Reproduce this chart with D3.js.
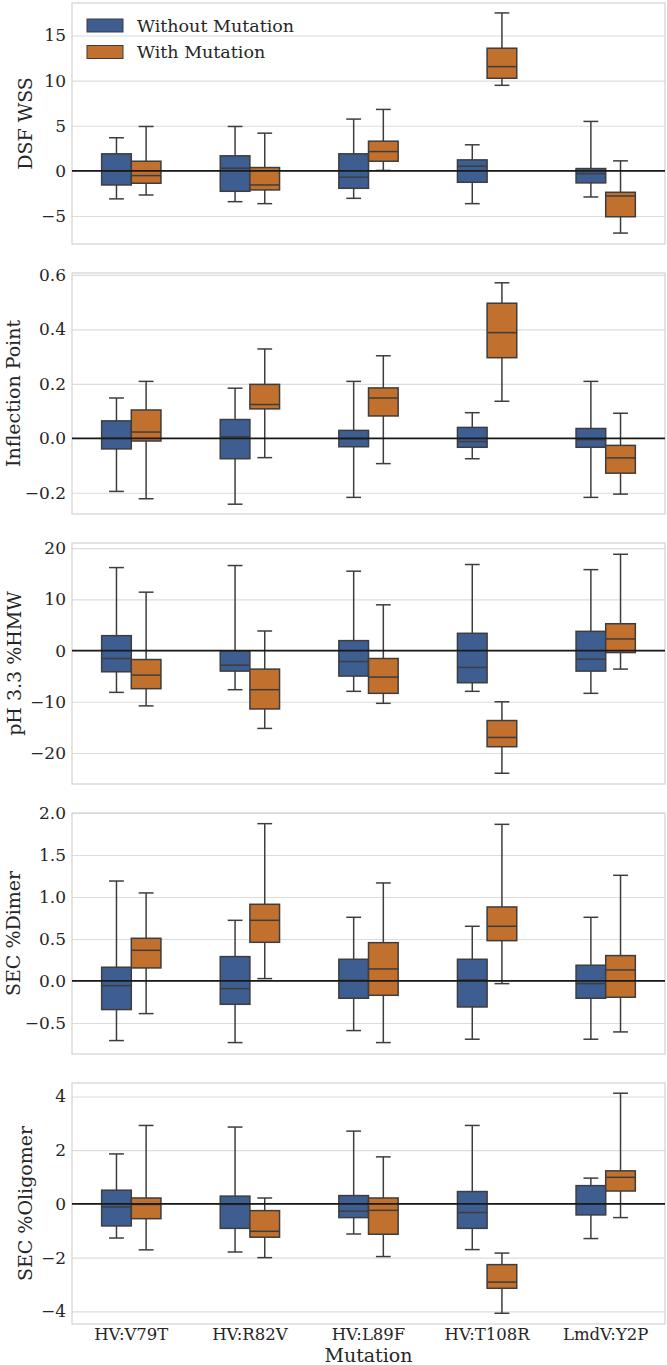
<!DOCTYPE html>
<html>
<head>
<meta charset="utf-8">
<script src="https://cdn.jsdelivr.net/npm/d3@7"></script>
<style>
  body { margin: 0; background: #fff; }
  text { font-family: "DejaVu Serif", serif; fill: #262626; }
</style>
</head>
<body>
<div id="chart"></div>
<script>
// categories and hue groups
const categories = ["HV:V79T", "HV:R82V", "HV:L89F", "HV:T108R", "LmdV:Y2P"];
const series = ["Without Mutation", "With Mutation"];
const colors = ["#3e5e92", "#c1712d"];

// box stats per category: [low whisker, q1, median, q3, high whisker]
const dsfWithout = [[-3.1, -1.56, 0.0, 1.89, 3.67], [-3.41, -2.26, 0.3, 1.67, 4.92], [-3.04, -1.93, -0.7, 1.89, 5.74], [-3.63, -1.26, 0.52, 1.22, 2.89], [-2.89, -1.33, -0.3, 0.26, 5.48]];
const dsfWith = [[-2.67, -1.37, -0.52, 1.07, 4.92], [-3.63, -2.11, -1.56, 0.37, 4.18], [0.05, 1.07, 2.14, 3.29, 6.81], [9.48, 10.26, 11.55, 13.59, 17.5], [-6.89, -5.08, -2.78, -2.37, 1.11]];

const inflWithout = [[-0.195, -0.039, 0.0, 0.064, 0.148], [-0.242, -0.075, 0.006, 0.069, 0.184], [-0.217, -0.031, -0.002, 0.029, 0.209], [-0.075, -0.033, -0.012, 0.04, 0.094], [-0.217, -0.033, -0.005, 0.036, 0.209]];
const inflWith = [[-0.222, -0.01, 0.023, 0.104, 0.209], [-0.071, 0.108, 0.124, 0.198, 0.328], [-0.093, 0.082, 0.148, 0.185, 0.303], [0.136, 0.296, 0.388, 0.496, 0.571], [-0.205, -0.128, -0.072, -0.026, 0.092]];

const hmwWithout = [[-8.16, -4.14, -1.55, 2.91, 16.2], [-7.64, -4.01, -2.85, -0.1, 16.6], [-7.96, -4.98, -2.14, 1.94, 15.5], [-7.96, -6.28, -3.3, 3.37, 16.8], [-8.35, -4.01, -1.68, 3.75, 15.8]];
const hmwWith = [[-10.8, -7.44, -4.79, -1.75, 11.4], [-15.2, -11.4, -7.64, -3.62, 3.82], [-10.3, -8.35, -5.18, -1.55, 8.93], [-23.95, -18.77, -16.96, -13.66, -10.0], [-3.62, -0.39, 2.27, 5.24, 18.8]];

const dimerWithout = [[-0.71, -0.341, -0.056, 0.163, 1.19], [-0.734, -0.278, -0.091, 0.29, 0.722], [-0.591, -0.206, 0.008, 0.258, 0.758], [-0.694, -0.31, 0.012, 0.258, 0.651], [-0.694, -0.206, -0.032, 0.187, 0.758]];
const dimerWith = [[-0.389, 0.155, 0.365, 0.508, 1.048], [0.028, 0.46, 0.722, 0.913, 1.873], [-0.734, -0.171, 0.143, 0.456, 1.167], [-0.032, 0.48, 0.651, 0.881, 1.865], [-0.607, -0.194, 0.131, 0.302, 1.258]];

const oligoWithout = [[-1.27, -0.82, -0.11, 0.51, 1.86], [-1.79, -0.91, -0.02, 0.29, 2.86], [-1.12, -0.51, -0.27, 0.31, 2.71], [-1.7, -0.91, -0.32, 0.46, 2.92], [-1.29, -0.41, 0.0, 0.68, 0.96]];
const oligoWith = [[-1.71, -0.55, -0.02, 0.22, 2.92], [-2.0, -1.24, -1.02, -0.25, 0.22], [-1.96, -1.13, -0.24, 0.22, 1.75], [-4.07, -3.14, -2.91, -2.26, -1.83], [-0.51, 0.48, 0.99, 1.23, 4.12]];

// y tick values per panel
const dsfTicks = [-5, 0, 5, 10, 15];
const inflTicks = [-0.2, 0, 0.2, 0.4, 0.6];
const hmwTicks = [-20, -10, 0, 10, 20];
const dimerTicks = [-0.5, 0, 0.5, 1, 1.5, 2];
const oligoTicks = [-4, -2, 0, 2, 4];

const panels = [
    { label: "DSF WSS", data: [dsfWithout, dsfWith], domain: [-8.1, 18.6], ticks: dsfTicks, fmt: "d" },
    { label: "Inflection Point", data: [inflWithout, inflWith], domain: [-0.278, 0.607], ticks: inflTicks, fmt: ".1f" },
    { label: "pH 3.3 %HMW", data: [hmwWithout, hmwWith], domain: [-26.05, 21.0], ticks: hmwTicks, fmt: "d" },
    { label: "SEC %Dimer", data: [dimerWithout, dimerWith], domain: [-0.87, 2.0], ticks: dimerTicks, fmt: ".1f" },
    { label: "SEC %Oligomer", data: [oligoWithout, oligoWith], domain: [-4.47, 4.5], ticks: oligoTicks, fmt: "d" }
];

const width = 667;
const height = 1365;
const left = 72, right = 665;
const panelH = 241, panelStep = 270, firstTop = 3;
const edge = "#3d3d3d";

const svg = d3.select("#chart")
    .append("svg")
    .attr("width", width)
    .attr("height", height);

const x = d3.scaleBand().domain(categories).range([left, right]);
const bw = x.bandwidth();
const hue = d3.scaleBand().domain(series).range([-0.25 * bw, 0.25 * bw]);
const boxW = hue.bandwidth();

panels.forEach((p, i) => {
    const top = firstTop + i * panelStep;
    const y = d3.scaleLinear().domain(p.domain).range([top + panelH, top]);
    const g = svg.append("g");

    // grid + tick labels
    const axis = g.append("g")
        .attr("transform", `translate(${left},0)`)
        .call(d3.axisLeft(y).tickValues(p.ticks).tickSize(-(right - left)).tickPadding(6).tickFormat(d3.format(p.fmt)));
    axis.select(".domain").remove();
    axis.selectAll("line").attr("stroke", "#dcdcdc").attr("stroke-width", 1.1);
    axis.selectAll("text")
        .style("font-size", "17px")
        .style("fill", "#262626")
        .attr("font-family", "DejaVu Serif");

    // frame
    g.append("rect")
        .attr("x", left).attr("y", top)
        .attr("width", right - left).attr("height", panelH)
        .attr("fill", "none").attr("stroke", "#d3d3d3").attr("stroke-width", 1.2);

    // boxes
    categories.forEach((c, ci) => {
        series.forEach((s, si) => {
            const [lo, q1, med, q3, hi] = p.data[si][ci];
            const x0 = x(c) + bw / 2 + hue(s);
            const cx = x0 + boxW / 2;
            const bg = g.append("g").attr("stroke", edge).attr("stroke-width", 1.5);
            bg.append("line").attr("x1", cx).attr("x2", cx).attr("y1", y(q3)).attr("y2", y(hi));
            bg.append("line").attr("x1", cx).attr("x2", cx).attr("y1", y(q1)).attr("y2", y(lo));
            bg.append("line").attr("x1", cx - boxW / 4).attr("x2", cx + boxW / 4).attr("y1", y(hi)).attr("y2", y(hi));
            bg.append("line").attr("x1", cx - boxW / 4).attr("x2", cx + boxW / 4).attr("y1", y(lo)).attr("y2", y(lo));
            bg.append("rect")
                .attr("x", x0).attr("y", y(q3))
                .attr("width", boxW).attr("height", y(q1) - y(q3))
                .attr("fill", colors[si]);
            bg.append("line").attr("x1", x0).attr("x2", x0 + boxW).attr("y1", y(med)).attr("y2", y(med));
        });
    });

    // zero reference line
    g.append("line")
        .attr("x1", left).attr("x2", right)
        .attr("y1", y(0)).attr("y2", y(0))
        .attr("stroke", "#1a1a1a").attr("stroke-width", 1.8);

    // y label placed left of the widest tick label, kept inside the page
    let minLeft = Infinity;
    axis.selectAll("text").each(function () {
        const b = this.getBBox();
        minLeft = Math.min(minLeft, left + b.x);
    });
    g.append("text")
        .attr("transform", `translate(${Math.max(minLeft - 9, 19.5)},${top + panelH / 2}) rotate(-90)`)
        .attr("text-anchor", "middle")
        .style("font-size", "19px")
        .text(p.label);

    // x tick labels only on the bottom panel
    if (i === panels.length - 1) {
        g.selectAll("text.xtick")
            .data(categories)
            .enter()
            .append("text")
            .attr("class", "xtick")
            .attr("x", d => x(d) + bw / 2)
            .attr("y", top + panelH + 16)
            .attr("text-anchor", "middle")
            .style("font-size", "16.5px")
            .text(d => d);
        g.append("text")
            .attr("x", (left + right) / 2)
            .attr("y", 1362)
            .attr("text-anchor", "middle")
            .style("font-size", "19px")
            .text("Mutation");
    }
});

// legend in the first panel
const legend = svg.append("g").attr("transform", "translate(87,19)");
series.forEach((s, si) => {
    legend.append("rect")
        .attr("x", 0).attr("y", si * 26.5)
        .attr("width", 36).attr("height", 13)
        .attr("fill", colors[si])
        .attr("stroke", edge).attr("stroke-width", 1);
    legend.append("text")
        .attr("x", 50).attr("y", si * 26.5 + 12.5)
        .style("font-size", "17.5px")
        .text(s);
});
</script>
</body>
</html>
